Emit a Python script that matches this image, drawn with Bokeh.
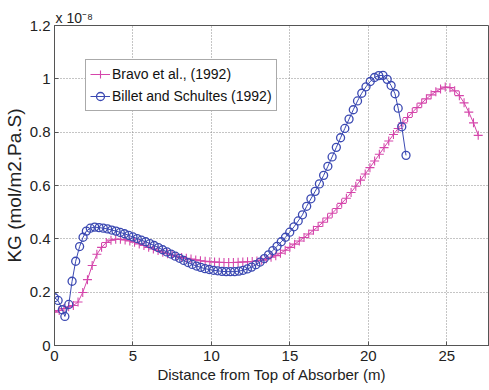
from bokeh.plotting import figure
from bokeh.models import Range1d, FixedTicker, Legend, LegendItem
from bokeh.embed import file_html
from bokeh.resources import INLINE

# Bravo et al. (1992) — KG in units of 1e-8 mol/m2.Pa.s
bravo_x = [0.0, 0.3, 0.6, 0.9, 1.2, 1.5, 1.8, 2.1, 2.4, 2.7, 3.0, 3.3, 3.6, 3.9, 4.2,
           4.5, 4.8, 5.1, 5.4, 5.7, 6.0, 6.3, 6.6, 6.9, 7.2, 7.5, 7.8, 8.1, 8.4, 8.7,
           9.0, 9.3, 9.6, 9.9, 10.2, 10.5, 10.8, 11.1, 11.4, 11.7, 12.0, 12.3, 12.6,
           12.9, 13.2, 13.5, 13.8, 14.1, 14.4, 14.7, 15.0, 15.3, 15.6, 15.9, 16.2,
           16.5, 16.8, 17.1, 17.4, 17.7, 18.0, 18.3, 18.6, 18.9, 19.2, 19.5, 19.8,
           20.1, 20.4, 20.7, 21.0, 21.3, 21.6, 21.9, 22.2, 22.5, 22.8, 23.1, 23.4,
           23.7, 24.0, 24.3, 24.6, 24.9, 25.2, 25.5, 25.8, 26.1, 26.4, 26.7, 27.0]
bravo_kg = [0.125, 0.131, 0.139, 0.145, 0.150, 0.163, 0.199, 0.247, 0.300, 0.342,
            0.368, 0.386, 0.395, 0.398, 0.398, 0.396, 0.392, 0.387, 0.381, 0.375,
            0.368, 0.362, 0.356, 0.350, 0.344, 0.339, 0.334, 0.330, 0.327, 0.324,
            0.321, 0.318, 0.316, 0.314, 0.313, 0.312, 0.311, 0.311, 0.311, 0.312,
            0.313, 0.314, 0.315, 0.317, 0.320, 0.325, 0.331, 0.337, 0.346, 0.357,
            0.368, 0.380, 0.392, 0.405, 0.418, 0.432, 0.446, 0.462, 0.478, 0.496,
            0.514, 0.533, 0.552, 0.574, 0.597, 0.620, 0.643, 0.667, 0.692, 0.717,
            0.742, 0.767, 0.791, 0.814, 0.835, 0.855, 0.874, 0.892, 0.909, 0.925,
            0.940, 0.952, 0.962, 0.969, 0.967, 0.955, 0.937, 0.910, 0.875, 0.835,
            0.788]

# Billet and Schultes (1992)
billet_x = [0.0, 0.23, 0.5, 0.66, 0.91, 1.12, 1.35, 1.6, 1.82, 2.03, 2.28, 2.56,
            2.84, 3.11, 3.38, 3.65, 3.92, 4.19, 4.46, 4.73, 5.00, 5.27, 5.54, 5.81,
            6.08, 6.35, 6.62, 6.89, 7.16, 7.43, 7.70, 7.97, 8.24, 8.51, 8.78, 9.05,
            9.32, 9.59, 9.86, 10.13, 10.40, 10.67, 10.94, 11.21, 11.48, 11.75, 12.02,
            12.29, 12.56, 12.83, 13.10, 13.37, 13.64, 13.91, 14.18, 14.45, 14.72,
            14.99, 15.26, 15.53, 15.80, 16.07, 16.34, 16.61, 16.88, 17.15, 17.42,
            17.69, 17.96, 18.23, 18.50, 18.77, 19.04, 19.31, 19.58, 19.85, 20.12,
            20.39, 20.66, 20.93, 21.20, 21.45, 21.70, 21.90, 22.13, 22.40]
billet_kg = [0.179, 0.169, 0.134, 0.109, 0.154, 0.241, 0.316, 0.371, 0.406, 0.429,
             0.440, 0.444, 0.442, 0.440, 0.437, 0.433, 0.429, 0.424, 0.419, 0.413,
             0.407, 0.401, 0.395, 0.389, 0.382, 0.375, 0.367, 0.359, 0.351, 0.343,
             0.335, 0.327, 0.319, 0.311, 0.304, 0.298, 0.293, 0.288, 0.285, 0.282,
             0.280, 0.278, 0.277, 0.277, 0.277, 0.279, 0.282, 0.287, 0.294, 0.303,
             0.313, 0.326, 0.340, 0.356, 0.372, 0.389, 0.406, 0.425, 0.445, 0.467,
             0.490, 0.522, 0.550, 0.578, 0.606, 0.638, 0.672, 0.707, 0.743, 0.779,
             0.814, 0.849, 0.884, 0.917, 0.946, 0.970, 0.990, 1.005, 1.012, 1.013,
             0.998, 0.975, 0.944, 0.890, 0.820, 0.713]

x_ticks = [0, 5, 10, 15, 20, 25]
y_ticks = [0, 0.2, 0.4, 0.6, 0.8, 1.0, 1.2]
y_tick_labels = ["0", "0.2", "0.4", "0.6", "0.8", "1", "1.2"]

PINK = "#d546ab"
BLUE = "#3b49b2"
AX = "#555555"
FONT = "Liberation Sans"

p = figure(width=489, height=390, output_backend="svg", toolbar_location=None,
           x_range=Range1d(0, 27.72), y_range=Range1d(0, 1.2),
           min_border_left=51, min_border_right=0, min_border_top=25,
           min_border_bottom=45)

p.outline_line_color = AX
p.outline_line_width = 1
p.background_fill_color = "white"
p.border_fill_color = "white"

# exponent of the y axis, as MATLAB writes it above the axis
p.title.text = "x 10\u207b\u2078"
p.title.align = "left"
p.title.offset = 1
p.title.standoff = 0
p.title.text_font = FONT
p.title.text_font_size = "14px"
p.title.text_font_style = "normal"
p.title.text_color = "#222222"

for ax in (p.xaxis[0], p.yaxis[0]):
    ax.axis_line_color = AX
    ax.major_tick_line_color = AX
    ax.major_tick_in = 4
    ax.major_tick_out = 0
    ax.minor_tick_line_color = None
    ax.major_label_text_font = FONT
    ax.major_label_text_font_size = "15px"
    ax.major_label_text_color = "#222222"
    ax.axis_label_text_font = FONT
    ax.axis_label_text_font_style = "normal"
    ax.axis_label_text_color = "#222222"

p.xaxis.ticker = FixedTicker(ticks=x_ticks)
p.yaxis.ticker = FixedTicker(ticks=y_ticks)
p.yaxis.major_label_overrides = {t: s for t, s in zip(y_ticks, y_tick_labels)}
p.xaxis.major_label_standoff = 5
p.yaxis.major_label_standoff = 4

p.xaxis.axis_label = "Distance from Top of Absorber (m)"
p.xaxis.axis_label_text_font_size = "15px"
p.xaxis.axis_label_standoff = 2
p.yaxis.axis_label = "KG (mol/m2.Pa.S)"
p.yaxis.axis_label_text_font_size = "19px"
p.yaxis.axis_label_standoff = 2

p.xgrid[0].ticker = FixedTicker(ticks=x_ticks)
p.ygrid[0].ticker = FixedTicker(ticks=y_ticks)
for g in (p.xgrid[0], p.ygrid[0]):
    g.grid_line_color = "#8a8a8a"
    g.grid_line_dash = "1 2"
    g.grid_line_width = 1

l1 = p.line(bravo_x, bravo_kg, line_color=PINK, line_width=1)
s1 = p.scatter(bravo_x, bravo_kg, marker="cross", size=9, line_color=PINK,
               line_width=1.1)
l2 = p.line(billet_x, billet_kg, line_color=BLUE, line_width=1)
s2 = p.scatter(billet_x, billet_kg, marker="circle", size=8, line_color=BLUE,
               fill_color=None, line_width=1.3)

legend = Legend(items=[LegendItem(label="Bravo et al., (1992)", renderers=[l1, s1]),
                       LegendItem(label="Billet and Schultes (1992)", renderers=[l2, s2])],
                location=(31, 234), orientation="vertical")
legend.label_text_font = FONT
legend.label_text_font_size = "14px"
legend.label_text_color = "#111111"
legend.label_height = 20
legend.glyph_height = 20
legend.glyph_width = 20
legend.label_standoff = 2
legend.spacing = 2
legend.padding = 4
legend.margin = 0
legend.border_line_color = AX
legend.border_line_width = 1
legend.background_fill_color = "white"
legend.background_fill_alpha = 1
p.add_layout(legend, "center")

open("out.html", "w").write(file_html(p, INLINE))
